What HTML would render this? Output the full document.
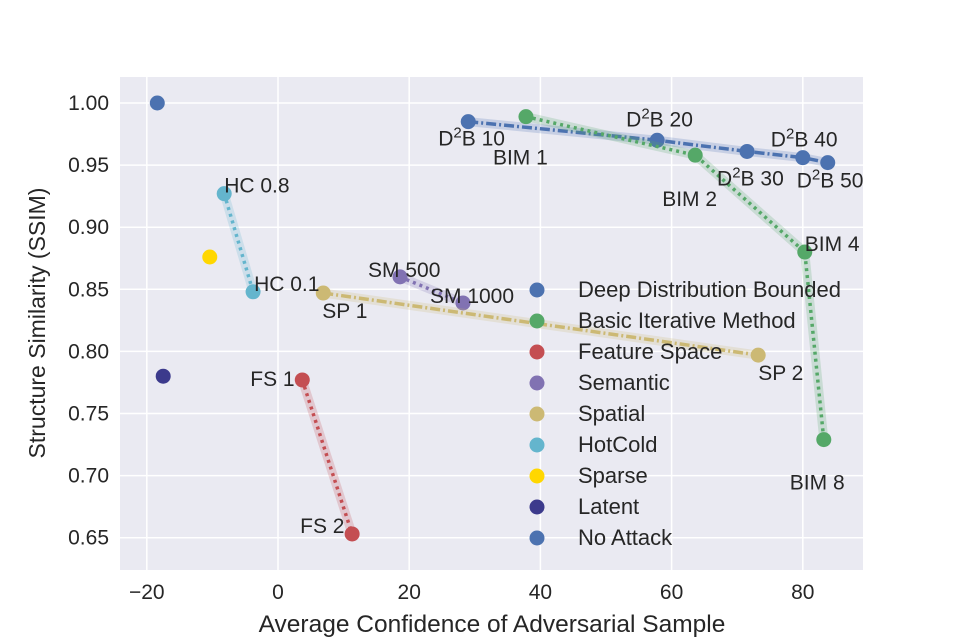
<!DOCTYPE html>
<html><head><meta charset="utf-8"><style>
body{margin:0;background:#fff}
svg{display:block;font-family:"Liberation Sans",sans-serif}
</style></head><body>
<svg id="chart" width="960" height="640">
<rect x="120" y="77" width="743" height="493" fill="#EAEAF2"/>
<g id="grid"></g><g id="series"></g><g id="labels"></g><g id="axes"></g><g id="legend"></g>
</svg>
<script>
const xTicks=[-20,0,20,40,60,80];
const yTicks=[0.65,0.70,0.75,0.80,0.85,0.90,0.95,1.00];
const seriesNames=["Deep Distribution Bounded","Basic Iterative Method","Feature Space","Semantic","Spatial","HotCold","Sparse","Latent","No Attack"];
const seriesColors=["#4C72B0","#55A868","#C44E52","#8172B2","#CCB974","#64B5CD","#FFD700","#3C3A8C","#4C72B0"];
const seriesDash=["10,3,2,3","3,4","3,4","3,4","10,3,2,3","3,4",null,null,null];
const d2bX=[29,57.8,71.5,80,83.8], d2bY=[0.985,0.970,0.961,0.956,0.952];
const bimX=[37.8,63.6,80.3,83.2], bimY=[0.989,0.958,0.880,0.729];
const fsX=[3.7,11.3], fsY=[0.777,0.653];
const smX=[18.6,28.2], smY=[0.860,0.839];
const spX=[6.9,73.2], spY=[0.847,0.797];
const hcX=[-8.2,-3.8], hcY=[0.927,0.848];
const sparseX=[-10.4], sparseY=[0.876];
const latentX=[-17.5], latentY=[0.780];
const noAttackX=[-18.4], noAttackY=[1.0];
const seriesX=[d2bX,bimX,fsX,smX,spX,hcX,sparseX,latentX,noAttackX];
const seriesY=[d2bY,bimY,fsY,smY,spY,hcY,sparseY,latentY,noAttackY];
const pointLabels=[["D²B 10","D²B 20","D²B 30","D²B 40","D²B 50"],["BIM 1","BIM 2","BIM 4","BIM 8"],["FS 1","FS 2"],["SM 500","SM 1000"],["SP 1","SP 2"],["HC 0.8","HC 0.1"],[],[],[]];
const labelOff=[[[-30,24],[-31,-14],[-30,34],[-32,-11],[-31,25]],[[-33,48],[-33,51],[0,-1],[-34,50]],[[-52,6],[-52,-1]],[[-32,0],[-33,0]],[[-1,25],[0,25]],[[0,-1],[1,-1]],[],[],[]];
const X=v=>278+v*6.56, Y=v=>103+(1-v)*1242;
const NS="http://www.w3.org/2000/svg";
function mk(tag,attrs,parent,text){const e=document.createElementNS(NS,tag);for(const k in attrs)e.setAttribute(k,attrs[k]);if(text!==undefined)e.textContent=text;parent.appendChild(e);return e;}
const g=document.getElementById('grid'),s=document.getElementById('series'),lb=document.getElementById('labels'),ax=document.getElementById('axes'),lg=document.getElementById('legend');
xTicks.forEach(t=>{const l=mk('line',{x1:X(t),x2:X(t),y1:77,y2:570,stroke:'#fff','stroke-width':1.5},g);

const tx=mk('text',{x:X(t),y:599,'text-anchor':'middle','font-size':21,fill:'#262626'},ax,t<0?'−'+(-t):String(t));
});
yTicks.forEach(t=>{const l=mk('line',{x1:120,x2:863,y1:Y(t),y2:Y(t),stroke:'#fff','stroke-width':1.5},g);

const tx=mk('text',{x:109,y:Y(t)+7,'text-anchor':'end','font-size':21,fill:'#262626'},ax,t.toFixed(2));
});
const xt=mk('text',{x:492,y:632,'text-anchor':'middle','font-size':24.5,fill:'#262626'},ax,'Average Confidence of Adversarial Sample');

const yt=mk('text',{x:0,y:0,transform:'translate(45,323) rotate(-90)','text-anchor':'middle','font-size':23,fill:'#262626'},ax,'Structure Similarity (SSIM)');

seriesNames.forEach((n,i)=>{const xs=seriesX[i],ys=seriesY[i],c=seriesColors[i];
if(xs.length>1){const pts=xs.map((x,j)=>X(x)+','+Y(ys[j])).join(' ');
const band=mk('polyline',{points:pts,fill:'none',stroke:c,'stroke-opacity':0.22,'stroke-width':9,'stroke-linejoin':'round'},s);

const ln=mk('polyline',{points:pts,fill:'none',stroke:c,'stroke-width':3.5,'stroke-dasharray':seriesDash[i]},s);
}
xs.forEach((x,j)=>{const p=mk('circle',{cx:X(x),cy:Y(ys[j]),r:7.5,fill:c},s);

const lab=pointLabels[i][j];if(lab){const o=labelOff[i][j];
const t=mk('text',{x:X(x)+o[0],y:Y(ys[j])+o[1],'font-size':21,fill:'#262626'},lb);
if(lab.startsWith('D²B')){t.appendChild(document.createTextNode('D'));mk('tspan',{dy:-8,'font-size':15},t,'2');mk('tspan',{dy:8},t,'B'+lab.slice(3));}else t.textContent=lab;
}});
const ly=290+i*31;
const lm=mk('circle',{cx:537,cy:ly,r:7.5,fill:c},lg);

const lt=mk('text',{x:578,y:ly+7,'font-size':22,fill:'#262626'},lg,n);
});
</script>
</body></html>
